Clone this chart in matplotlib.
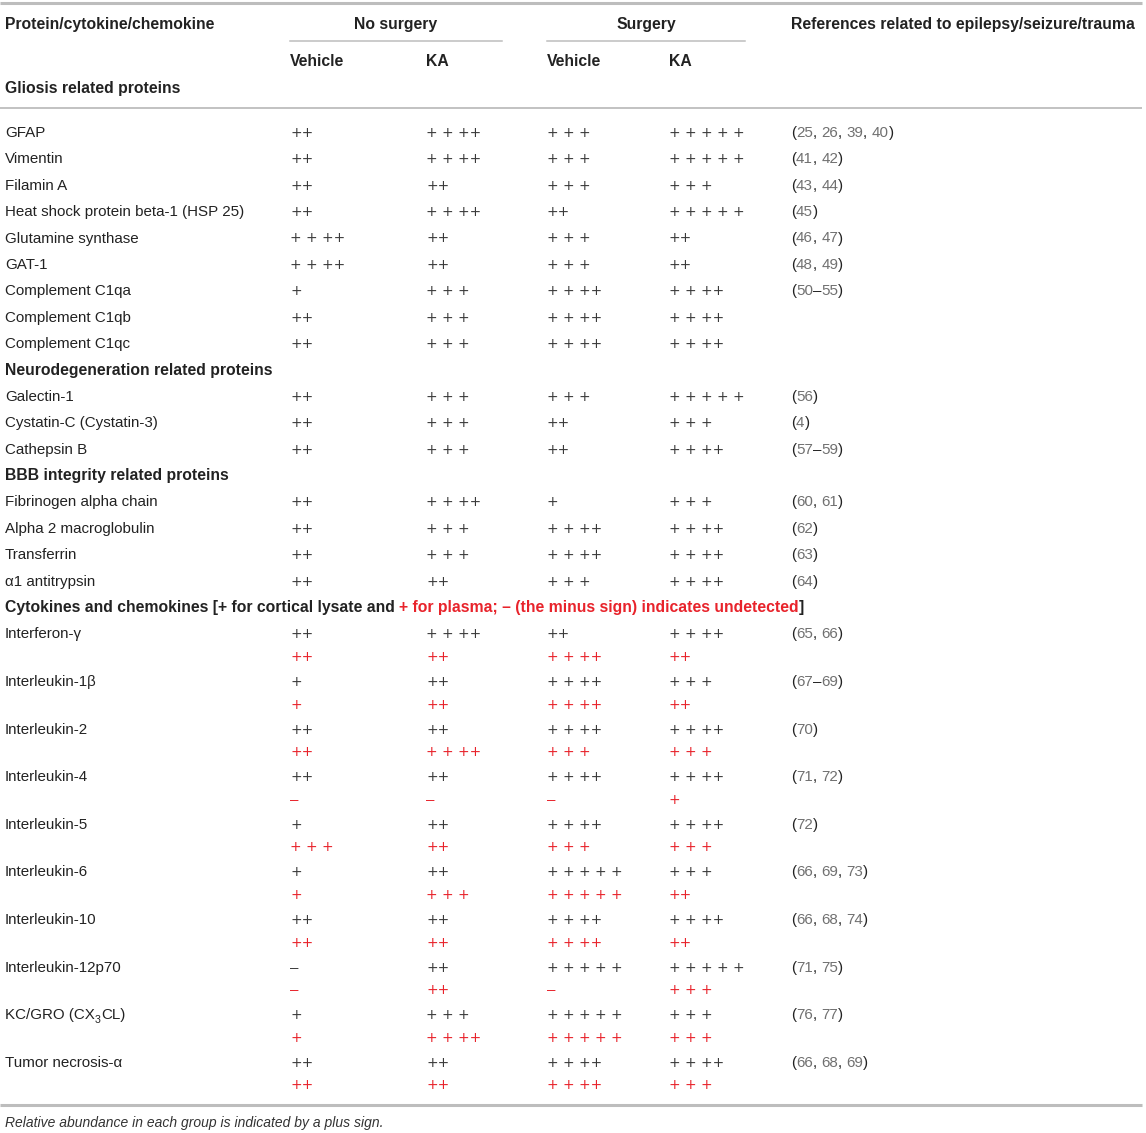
import matplotlib
matplotlib.use("Agg")
import matplotlib.pyplot as plt

plt.rcParams['font.family'] = ['Liberation Sans', 'DejaVu Sans']

# Column headings
group_labels = ["No surgery", "Surgery"]
sub_labels = ["Vehicle", "KA", "Vehicle", "KA"]

# Plus-sign counts per group: No surgery Vehicle, No surgery KA, Surgery Vehicle, Surgery KA
# (0 means undetected, drawn as a minus sign)
gliosis_names = ["GFAP", "Vimentin", "Filamin A", "Heat shock protein beta-1 (HSP 25)",
                 "Glutamine synthase", "GAT-1", "Complement C1qa", "Complement C1qb",
                 "Complement C1qc"]
gliosis_vals = [[2, 4, 3, 5], [2, 4, 3, 5], [2, 2, 3, 3], [2, 4, 2, 5], [4, 2, 3, 2],
                [4, 2, 3, 2], [1, 3, 4, 4], [2, 3, 4, 4], [2, 3, 4, 4]]
gliosis_refs = ["25, 26, 39, 40", "41, 42", "43, 44", "45", "46, 47", "48, 49", "50–55", "", ""]

neuro_names = ["Galectin-1", "Cystatin-C (Cystatin-3)", "Cathepsin B"]
neuro_vals = [[2, 3, 3, 5], [2, 3, 2, 3], [2, 3, 2, 4]]
neuro_refs = ["56", "4", "57–59"]

bbb_names = ["Fibrinogen alpha chain", "Alpha 2 macroglobulin", "Transferrin", "α1 antitrypsin"]
bbb_vals = [[2, 4, 1, 3], [2, 3, 4, 4], [2, 3, 4, 4], [2, 2, 3, 4]]
bbb_refs = ["60, 61", "62", "63", "64"]

cyto_names = ["Interferon-γ", "Interleukin-1β", "Interleukin-2", "Interleukin-4",
              "Interleukin-5", "Interleukin-6", "Interleukin-10", "Interleukin-12p70",
              "KC/GRO (CX_3CL)", "Tumor necrosis-α"]
cyto_lysate = [[2, 4, 2, 4], [1, 2, 4, 3], [2, 2, 4, 4], [2, 2, 4, 4], [1, 2, 4, 4],
               [1, 2, 5, 3], [2, 2, 4, 4], [0, 2, 5, 5], [1, 3, 5, 3], [2, 2, 4, 4]]
cyto_plasma = [[2, 2, 4, 2], [1, 2, 4, 2], [2, 4, 3, 3], [0, 0, 0, 1], [3, 2, 3, 3],
               [1, 3, 5, 2], [2, 2, 4, 2], [0, 2, 0, 3], [1, 4, 5, 3], [2, 2, 4, 3]]
cyto_refs = ["65, 66", "67–69", "70", "71, 72", "72", "66, 69, 73", "66, 68, 74",
             "71, 75", "76, 77", "66, 68, 69"]

footnote = "Relative abundance in each group is indicated by a plus sign."

BLACK = "#222222"
PLUS = "#3a3a3a"
GREY = "#707070"
RED = "#e8232b"
RULE = "#bdbdbd"
FS = 10.9
FSB = 11.3

W, H = 1146, 1133
fig = plt.figure(figsize=(W / 100, H / 100), dpi=100)
ax = fig.add_axes([0, 0, 1, 1])
ax.set_xlim(0, W)
ax.set_ylim(H, 0)
ax.axis("off")
renderer = fig.canvas.get_renderer()

x_name = 5
x_cols = [290, 426, 547, 669]
x_ref = 791
BASE = 5.5  # baseline offset below visual centre


def plus_text(n):
    if n == 0:
        return "–"
    if n == 2:
        return "++"
    if n == 4:
        return "+ + ++"
    return " ".join(["+"] * n)


def segments(x, y, segs, size=FS, weight="normal"):
    # draw a run of differently styled pieces one after another
    for txt, color, extra in segs:
        kw = dict(fontsize=size, fontweight=weight, color=color, va="baseline", ha="left")
        dy = 0
        if extra == "sub":
            kw["fontsize"] = size * 0.7
            dy = 3.5
        t = ax.text(x, y + BASE + dy, txt, **kw)
        bb = t.get_window_extent(renderer)
        x += bb.width


def ref_text(x, y, refs):
    if not refs:
        return
    segs = [("(", BLACK, None)]
    parts = refs.split(", ")
    for i, p in enumerate(parts):
        if "–" in p:
            a, b = p.split("–")
            segs += [(a, GREY, None), ("–", BLACK, None), (b, GREY, None)]
        else:
            segs.append((p, GREY, None))
        if i < len(parts) - 1:
            segs.append((", ", BLACK, None))
    segs.append((")", BLACK, None))
    segments(x, y, segs)


def name_text(x, y, name):
    if "_" in name:
        a, rest = name.split("_")
        segments(x, y, [(a, BLACK, None), (rest[0], BLACK, "sub"), (rest[1:], BLACK, None)])
    else:
        segments(x, y, [(name, BLACK, None)])


def value_row(y, vals, color):
    for xc, n in zip(x_cols, vals):
        if n == 0:
            ax.text(xc, y + BASE, "–", fontsize=FS, color=color, va="baseline", ha="left")
        else:
            ax.text(xc, y + BASE, plus_text(n), fontsize=10, color=color, va="baseline",
                    ha="left", family="DejaVu Sans")


# rules
ax.plot([0, 1142], [3, 3], color=RULE, lw=2.2, solid_capstyle="butt")
ax.plot([0, 1142], [108, 108], color=RULE, lw=1.3, solid_capstyle="butt")
ax.plot([0, 1142], [1105, 1105], color=RULE, lw=2.2, solid_capstyle="butt")
ax.plot([290, 502], [41, 41], color=RULE, lw=1.1)
ax.plot([547, 745], [41, 41], color=RULE, lw=1.1)

# header
segments(x_name, 23, [("Protein/cytokine/chemokine", BLACK, None)], size=FSB, weight="bold")
ax.text(396, 23 + BASE, group_labels[0], fontsize=FSB, fontweight="bold", color=BLACK,
        ha="center", va="baseline")
ax.text(646, 23 + BASE, group_labels[1], fontsize=FSB, fontweight="bold", color=BLACK,
        ha="center", va="baseline")
segments(x_ref, 23, [("References related to epilepsy/seizure/trauma", BLACK, None)],
         size=FSB, weight="bold")
for xc, lab in zip(x_cols, sub_labels):
    ax.text(xc, 60 + BASE, lab, fontsize=FSB, fontweight="bold", color=BLACK, va="baseline")

step = 26.4
y = 87
sections = [("Gliosis related proteins", gliosis_names, gliosis_vals, gliosis_refs),
            ("Neurodegeneration related proteins", neuro_names, neuro_vals, neuro_refs),
            ("BBB integrity related proteins", bbb_names, bbb_vals, bbb_refs)]
for i, (title, names, vals, refs) in enumerate(sections):
    segments(x_name, y, [(title, BLACK, None)], size=FSB, weight="bold")
    y += step + (18 if i == 0 else 0)
    for nm, v, r in zip(names, vals, refs):
        name_text(x_name, y, nm)
        value_row(y, v, PLUS)
        ref_text(x_ref, y, r)
        y += step

segments(x_name, y, [("Cytokines and chemokines [+ for cortical lysate and ", BLACK, None),
                     ("+ for plasma; – (the minus sign) indicates undetected", RED, None),
                     ("]", BLACK, None)], size=FSB, weight="bold")
y += step
for nm, lv, pv, r in zip(cyto_names, cyto_lysate, cyto_plasma, cyto_refs):
    name_text(x_name, y, nm)
    value_row(y, lv, PLUS)
    value_row(y + 22.5, pv, RED)
    ref_text(x_ref, y, r)
    y += 47.6

ax.text(x_name, 1122 + 4.5, footnote, fontsize=10, style="italic", color="#333333", va="baseline")

fig.savefig("out.png", dpi=100)
